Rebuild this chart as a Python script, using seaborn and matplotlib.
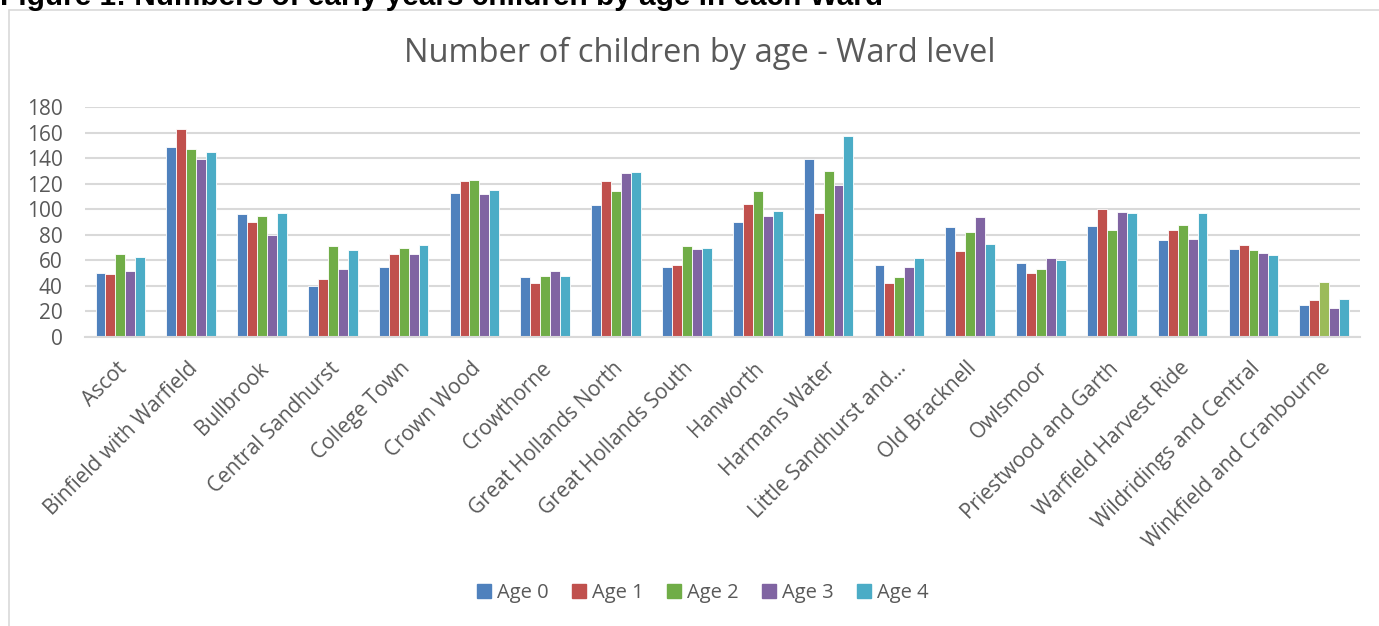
import numpy as np
import pandas as pd
import seaborn as sns
import matplotlib.pyplot as plt
from matplotlib.patches import Rectangle
import matplotlib.transforms as mtransforms

# --- DATA ---
wards = ["Ascot", "Binfield with Warfield", "Bullbrook", "Central Sandhurst",
         "College Town", "Crown Wood", "Crowthorne", "Great Hollands North",
         "Great Hollands South", "Hanworth", "Harmans Water",
         "Little Sandhurst and...", "Old Bracknell", "Owlsmoor",
         "Priestwood and Garth", "Warfield Harvest Ride",
         "Wildridings and Central", "Winkfield and Cranbourne"]
age0 = [50, 149, 96, 40, 55, 113, 47, 103, 55, 90, 139, 56, 86, 58, 87, 76, 69, 25]
age1 = [49, 163, 90, 45, 65, 122, 42, 122, 56, 104, 97, 42, 67, 50, 100, 84, 72, 29]
age2 = [65, 147, 95, 71, 70, 123, 48, 114, 71, 114, 130, 47, 82, 53, 84, 88, 68, 43]
age3 = [52, 139, 80, 53, 65, 112, 52, 128, 69, 95, 119, 55, 94, 62, 98, 77, 66, 23]
age4 = [63, 145, 97, 68, 72, 115, 48, 129, 70, 99, 157, 62, 73, 60, 97, 97, 64, 30]
series_names = ["Age 0", "Age 1", "Age 2", "Age 3", "Age 4"]
colors = ["#4F81BD", "#C0504D", "#70AD47", "#8064A2", "#4BACC6"]

rows = []
for name, vals in zip(series_names, [age0, age1, age2, age3, age4]):
    for w, v in zip(wards, vals):
        rows.append({"Ward": w, "Age": name, "Count": v})
df = pd.DataFrame(rows)

sns.set_style("white")
plt.rcParams['font.family'] = ['Open Sans', 'DejaVu Sans']

fig = plt.figure(figsize=(13.79, 6.26), dpi=100)
ax = fig.add_axes([0.0616, 0.4617, 0.9244, 0.3673])

sns.barplot(data=df, x="Ward", y="Count", hue="Age", order=wards,
            hue_order=series_names, palette=colors, width=0.7,
            edgecolor="white", linewidth=0.6, saturation=1, ax=ax)

# the last Age 2 bar is a lighter green in the original
ax.containers[2][-1].set_facecolor("#9BBB59")

ax.set_ylim(0, 180)
ax.set_yticks(np.arange(0, 181, 20))
ax.set_xlim(-0.5, len(wards) - 0.5)
ax.yaxis.grid(True, color="#D9D9D9", linewidth=1.5)
ax.set_axisbelow(True)
for s in ["top", "right", "left"]:
    ax.spines[s].set_visible(False)
ax.spines["bottom"].set_color("#D9D9D9")
ax.spines["bottom"].set_linewidth(1.5)
ax.tick_params(axis="both", length=0, labelsize=15, labelcolor="#595959")
ax.tick_params(axis="y", pad=16)
ax.tick_params(axis="x", pad=15)
ax.set_xlabel("")
ax.set_ylabel("")
shift = mtransforms.ScaledTranslation(-4 / 100, 0, fig.dpi_scale_trans)
for lab in ax.get_xticklabels():
    lab.set_rotation(45)
    lab.set_ha("right")
    lab.set_rotation_mode("anchor")
    lab.set_transform(lab.get_transform() + shift)

ax.legend_.remove()
handles = [Rectangle((0, 0), 1, 1, color=c) for c in colors]
fig.legend(handles, series_names, loc="center", bbox_to_anchor=(703 / 1379, 0.052),
           ncol=5, frameon=False, fontsize=14.5, handlelength=0.7,
           handleheight=0.7, handletextpad=0.3, columnspacing=1.15,
           labelcolor="#595959")

fig.text(700 / 1379, 1 - 53 / 626, "Number of children by age - Ward level", ha="center",
         va="center", fontsize=23.5, color="#595959")

# cropped figure caption at the very top
fig.text(0.0, 1 - 5 / 626, "Figure 1: Numbers of early years children by age in each Ward",
         ha="left", va="baseline", fontsize=21.4, fontweight="bold",
         family=["Liberation Sans", "DejaVu Sans"], color="black")

fig.patches.append(Rectangle((9 / 1379, -0.1), 1.0, 1.1 - 10 / 626, transform=fig.transFigure,
                             fill=False, edgecolor="#D9D9D9", linewidth=1.2))

fig.savefig("out.png", dpi=100, facecolor="white")
